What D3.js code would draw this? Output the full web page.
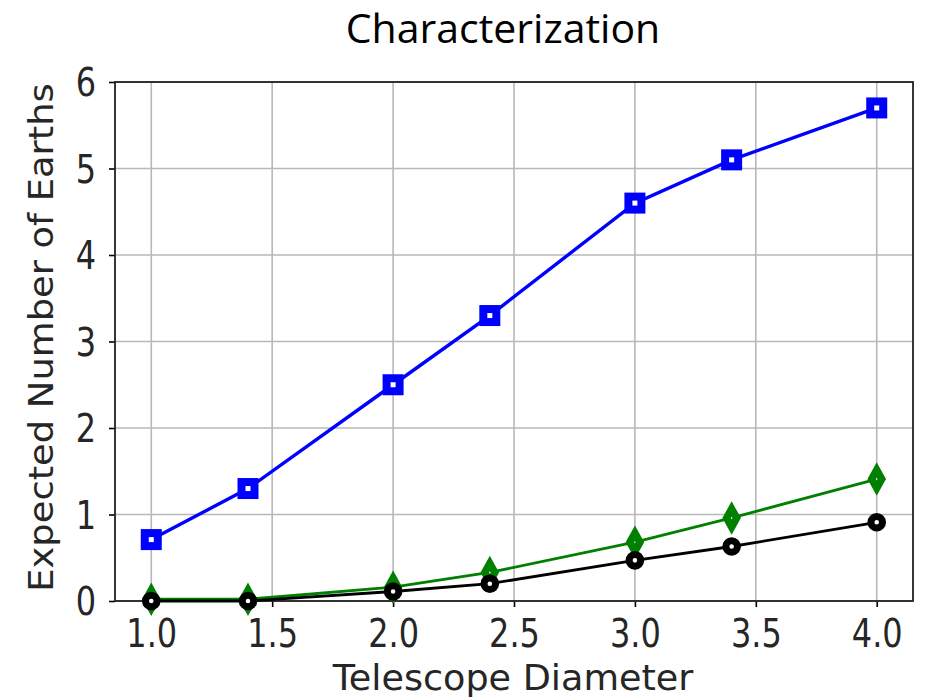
<!DOCTYPE html>
<html><head><meta charset="utf-8">
<script src="https://cdn.jsdelivr.net/npm/d3@7"></script>
<style>body{margin:0;background:#fff}svg{display:block}</style>
</head><body>
<svg id="c" width="927" height="698"></svg>
<script>
const diameters = [1.0, 1.4, 2.0, 2.4, 3.0, 3.4, 4.0];
const blueSquares = [0.71, 1.3, 2.5, 3.3, 4.6, 5.1, 5.7];
const greenDiamonds = [0.02, 0.02, 0.16, 0.33, 0.68, 0.96, 1.41];
const blackCircles = [0.0, 0.0, 0.11, 0.2, 0.47, 0.63, 0.91];
const xTicks = [1.0, 1.5, 2.0, 2.5, 3.0, 3.5, 4.0];
const yTicks = [0, 1, 2, 3, 4, 5, 6];
const title = "Characterization";
const xLabel = "Telescope Diameter";
const yLabel = "Expected Number of Earths";

const svg = d3.select("#c");
const m = {l:115, r:913, t:82, b:601};
const x = d3.scaleLinear().domain([0.85, 4.15]).range([m.l, m.r]);
const y = d3.scaleLinear().domain([0, 6]).range([m.b, m.t]);
const font = "DejaVu Sans, sans-serif";

// grid
const g = svg.append("g");
g.selectAll(".gx").data(xTicks).join("line")
  .attr("x1", d=>x(d)).attr("x2", d=>x(d)).attr("y1", m.t).attr("y2", m.b)
  .attr("stroke", "#b8b8b8").attr("stroke-width", 1.6);
g.selectAll(".gy").data(yTicks).join("line")
  .attr("y1", d=>y(d)).attr("y2", d=>y(d)).attr("x1", m.l).attr("x2", m.r)
  .attr("stroke", "#b8b8b8").attr("stroke-width", 1.6);

// axes
const xAxis = d3.axisBottom(x).tickValues(xTicks).tickFormat(d3.format(".1f")).tickSize(6);
const yAxis = d3.axisLeft(y).tickValues(yTicks).tickFormat(d3.format("d")).tickSize(6);
const ax = svg.append("g").attr("transform", `translate(0,${m.b})`).call(xAxis);
const ay = svg.append("g").attr("transform", `translate(${m.l},0)`).call(yAxis);
[ax, ay].forEach(a => {
  a.select(".domain").remove();
  a.selectAll("line").attr("stroke", "#000").attr("stroke-width", 1.6);
  a.selectAll("text").attr("font-family", font).attr("font-size", 32).attr("fill", "#262626");
});
ax.selectAll("text").attr("y", 0).attr("dy", 0).attr("transform", "translate(0,46) scale(1,1.2)");
ay.selectAll("text").attr("x", 0).attr("dy", "0.36em").attr("transform", "translate(-19,0) scale(1,1.2)");

// frame
svg.append("rect").attr("x", m.l).attr("y", m.t).attr("width", m.r-m.l).attr("height", m.b-m.t)
  .attr("fill", "none").attr("stroke", "#222").attr("stroke-width", 1.8);

const line = vals => d3.line().x((d,i)=>x(diameters[i])).y(d=>y(d))(vals);

// series lines
svg.append("path").attr("d", line(greenDiamonds)).attr("fill","none").attr("stroke","#008000").attr("stroke-width",2.8);
svg.append("path").attr("d", line(blackCircles)).attr("fill","none").attr("stroke","#000").attr("stroke-width",2.8);
svg.append("path").attr("d", line(blueSquares)).attr("fill","none").attr("stroke","#0000ff").attr("stroke-width",3.4);

// markers
svg.selectAll(".dm").data(greenDiamonds).join("path")
  .attr("transform",(d,i)=>`translate(${x(diameters[i])},${y(d)})`)
  .attr("d","M0,-9L5,0L0,9L-5,0Z")
  .attr("fill","#fff").attr("stroke","#008000").attr("stroke-width",7.5).attr("stroke-linejoin","miter");
svg.selectAll(".ci").data(blackCircles).join("circle")
  .attr("cx",(d,i)=>x(diameters[i])).attr("cy",d=>y(d)).attr("r",5.8)
  .attr("fill","#fff").attr("stroke","#000").attr("stroke-width",7);
svg.selectAll(".sq").data(blueSquares).join("rect")
  .attr("x",(d,i)=>x(diameters[i])-6.5).attr("y",d=>y(d)-6.5).attr("width",13).attr("height",13)
  .attr("fill","#fff").attr("stroke","#0000ff").attr("stroke-width",8);

// labels
svg.append("text").attr("x", 503).attr("y", 43).attr("text-anchor","middle")
  .attr("font-family","Open Sans, sans-serif").attr("font-size",41).attr("fill","#000").text(title);
svg.append("text").attr("text-anchor","middle")
  .attr("transform",`translate(${(m.l+m.r)/2 - 1},689.5) scale(1.03,1)`)
  .attr("font-family",font).attr("font-size",35.5).attr("fill","#262626").text(xLabel);
svg.append("text").attr("transform",`translate(53,${(m.t+m.b)/2 - 4}) rotate(-90) scale(1.084,1)`).attr("text-anchor","middle")
  .attr("font-family",font).attr("font-size",34).attr("fill","#262626").text(yLabel);
</script>
</body></html>
